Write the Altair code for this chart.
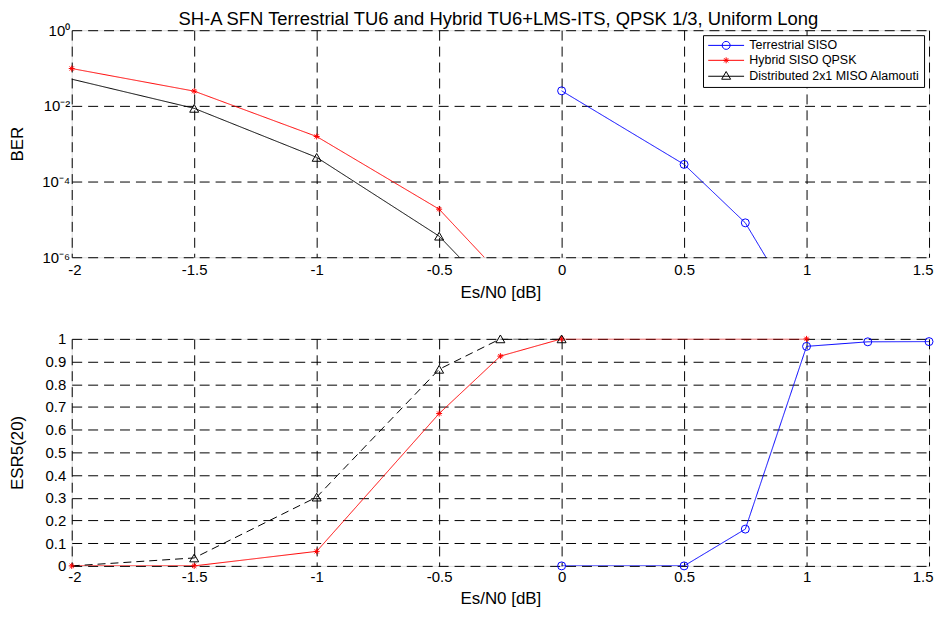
import altair as alt
import pandas as pd

FONT = "Liberation Sans"

# ---------------- data ----------------
series = ["Terrestrial SISO", "Hybrid SISO QPSK", "Distributed 2x1 MISO Alamouti"]
colors = ["#0000ff", "#ff0000", "#000000"]

# BER (top panel)
ber_terr_x = [0.0, 0.5, 0.75, 1.0]
ber_terr_y = [2.5e-2, 2.84e-4, 8.1e-6, 1.6e-8]
ber_hyb_x = [-2.0, -1.5, -1.0, -0.5, -0.25]
ber_hyb_y = [9.7e-2, 2.45e-2, 1.55e-3, 1.86e-5, 3.5e-7]
ber_dist_x = [-2.5, -1.5, -1.0, -0.5, -0.25]
ber_dist_y = [3.0e-1, 8.6e-3, 4.35e-4, 3.6e-6, 7.4e-8]

# ESR5(20) (bottom panel)
esr_terr_x = [0.0, 0.5, 0.75, 1.0, 1.25, 1.5]
esr_terr_y = [0.0, 0.0, 0.162, 0.967, 0.987, 0.988]
esr_hyb_x = [-2.0, -1.5, -1.0, -0.5, -0.25, 0.0, 1.0]
esr_hyb_y = [0.0, 0.0, 0.064, 0.671, 0.924, 1.0, 1.0]
esr_dist_x = [-2.0, -1.5, -1.0, -0.5, -0.25, 0.0]
esr_dist_y = [0.0, 0.035, 0.303, 0.866, 1.0, 1.0]

x_ticks = [-2, -1.5, -1, -0.5, 0, 0.5, 1, 1.5]
ber_ticks = [1e-6, 1e-4, 1e-2, 1]
esr_ticks = [0, 0.1, 0.2, 0.3, 0.4, 0.5, 0.6, 0.7, 0.8, 0.9, 1]

title_text = "SH-A SFN Terrestrial TU6 and Hybrid TU6+LMS-ITS, QPSK 1/3, Uniform Long"

# ---------------- styling helpers ----------------
markers = ["circle",
           "M-1,0L1,0M0,-1L0,1M-0.7,-0.7L0.7,0.7M-0.7,0.7L0.7,-0.7",
           "triangle-up"]
marker_sizes = [64, 36, 81]

legend_paths = [
    "M-1,0L6.2,0M1.8,0A0.8,0.8,0,1,1,3.4,0A0.8,0.8,0,1,1,1.8,0",
    "M-1,0L6.2,0M2.0,0L3.2,0M2.6,-0.6L2.6,0.6M2.18,-0.42L3.02,0.42M2.18,0.42L3.02,-0.42",
    "M-1,0L6.2,0M1.7,0.6L3.5,0.6L2.6,-0.95Z",
]


def frame(xs, ys, name):
    return pd.DataFrame({"x": xs, "y": ys, "series": name, "order": list(range(len(xs)))})


GRID = dict(grid=True, gridColor="#000000", gridDash=[10, 6], gridWidth=1, gridOpacity=1,
            domain=False, ticks=False, labelFont=FONT, labelFontSize=15, labelColor="#000000",
            titleFont=FONT, titleFontSize=17, titleFontWeight="normal", titleColor="#000000")

X_LABEL_EXPR = "(datum.value < 0 ? '-' : '') + format(abs(datum.value), '~g')"
x_scale = alt.Scale(domain=[-2, 1.5], nice=False, zero=False)

x_axis_top = alt.Axis(values=x_ticks, title="Es/N0 [dB]", labelFlush=True, labelFlushOffset=4,
                      labelExpr=X_LABEL_EXPR, labelPadding=5, titlePadding=7, **GRID)
x_axis_bot = alt.Axis(values=x_ticks, title="Es/N0 [dB]", labelFlush=True, labelFlushOffset=4,
                      labelExpr=X_LABEL_EXPR, labelPadding=4, titlePadding=6, **GRID)

ber_axis = alt.Axis(values=ber_ticks, title="BER",
                    labelExpr="'10' + (datum.value > 0.1 ? '\u2070' : datum.value > 0.001 ? '\u207b\u00b2' : datum.value > 0.00001 ? '\u207b\u2074' : '\u207b\u2076')",
                    labelPadding=2, titlePadding=7, minExtent=38, maxExtent=38, **GRID)
ber_enc = alt.Y("y:Q", scale=alt.Scale(type="log", domain=[1e-6, 1], nice=False), axis=ber_axis)

esr_axis = alt.Axis(values=esr_ticks, title="ESR5(20)", format="~g",
                    labelPadding=6, titlePadding=7, minExtent=38, maxExtent=38, **GRID)
esr_enc = alt.Y("y:Q", scale=alt.Scale(domain=[0, 1], nice=False, zero=False), axis=esr_axis)


def panel(dfs, x_enc, y_enc, dashes, filters):
    layers = []
    for i, df in enumerate(dfs):
        layers.append(
            alt.Chart(df).mark_line(clip=True, color=colors[i], strokeWidth=1,
                                    strokeDash=dashes[i])
            .encode(x=x_enc, y=y_enc, order="order:Q")
        )
    for i, df in enumerate(dfs):
        layers.append(
            alt.Chart(df).mark_point(shape=markers[i], size=marker_sizes[i], filled=False,
                                     opacity=1, strokeWidth=1, color=colors[i])
            .encode(x=x_enc, y=y_enc)
            .transform_filter(filters[i])
        )
    return layers


top_dfs = [frame(ber_terr_x, ber_terr_y, series[0]),
           frame(ber_hyb_x, ber_hyb_y, series[1]),
           frame(ber_dist_x, ber_dist_y, series[2])]
bot_dfs = [frame(esr_terr_x, esr_terr_y, series[0]),
           frame(esr_hyb_x, esr_hyb_y, series[1]),
           frame(esr_dist_x, esr_dist_y, series[2])]

in_ber = (alt.datum.x >= -2) & (alt.datum.y >= 1e-6)
top_layers = panel(top_dfs, alt.X("x:Q", scale=x_scale, axis=x_axis_top), ber_enc,
                   [[1, 0], [1, 0], [1, 0]], [in_ber, in_ber, in_ber])

leg = alt.Legend(title=None, orient="top-right", offset=5, padding=4, rowPadding=2,
                 strokeColor="#000000", fillColor="#ffffff", cornerRadius=0,
                 labelFont=FONT, labelFontSize=12.5, labelColor="#000000", labelLimit=400,
                 symbolSize=100, symbolStrokeWidth=1, labelOffset=30)
legend_layer = (
    alt.Chart(alt.Data(values=[{"series": s} for s in series]))
    .mark_point(filled=False, opacity=1, strokeWidth=1)
    .encode(
        color=alt.Color("series:N", scale=alt.Scale(domain=series, range=colors), legend=leg),
        shape=alt.Shape("series:N", scale=alt.Scale(domain=series, range=legend_paths), legend=leg),
    )
    .transform_filter("false")
)

top = alt.layer(*top_layers, legend_layer).properties(
    width=861, height=228,
    title=alt.TitleParams(text=title_text, font=FONT, fontSize=18.5, fontWeight="normal",
                          color="#000000", anchor="middle", frame="group", offset=-5, dx=-2),
)

bot_layers = panel(bot_dfs, alt.X("x:Q", scale=x_scale, axis=x_axis_bot), esr_enc,
                   [[1, 0], [1, 0], [8, 5]],
                   [alt.datum.x >= -2, alt.datum.x >= -2, alt.datum.x > -2])
bottom = alt.layer(*bot_layers).properties(width=861, height=228)

chart = (
    alt.vconcat(top, bottom, spacing=30)
    .resolve_scale(color="independent", shape="independent")
    .properties(padding={"left": 0, "top": 0, "right": 0, "bottom": 0}, background="#ffffff")
    .configure_view(stroke="#000000", strokeWidth=1)
    .configure(font=FONT)
)

chart.save("out.html", embed_options={"renderer": "svg", "actions": False})
